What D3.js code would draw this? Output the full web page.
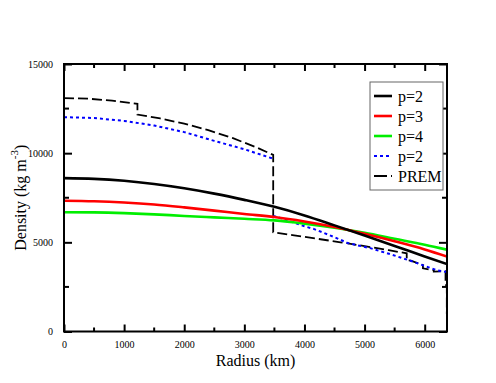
<!DOCTYPE html>
<html>
<head>
<meta charset="utf-8">
<script src="https://cdn.jsdelivr.net/npm/d3@7"></script>
<style>
  body { margin: 0; background: #fff; }
  svg text { font-family: "Liberation Serif", "DejaVu Serif", serif; }
</style>
</head>
<body>
<div id="chart"></div>
<script>
// radius grid (km) for the three model curves
var radius = [0, 500, 1000, 1500, 2000, 2500, 3000, 3500, 4000, 4500, 5000, 5500, 6000, 6371];
var densP2 = [8600, 8560, 8450, 8270, 8030, 7730, 7380, 6990, 6510, 5950, 5380, 4800, 4210, 3780];
var densP3 = [7330, 7300, 7230, 7120, 6960, 6780, 6590, 6420, 6170, 5860, 5480, 5060, 4600, 4200];
var densP4 = [6690, 6680, 6640, 6570, 6480, 6400, 6320, 6230, 6050, 5820, 5530, 5200, 4870, 4590];

// second p=2 model (dotted), core + mantle (null = break at the CMB)
var radiusP2b = [0, 500, 1000, 1500, 2000, 2500, 3000, 3480, 3480, 3480, 3606, 4000, 4163, 4500, 4720, 5108, 5442, 5776, 6055, 6222, 6371];
var densP2b = [12020, 11970, 11810, 11550, 11180, 10690, 10220, 9690, null, 6480, 6360, 5900, 5740, 5290, 4960, 4660, 4320, 3950, 3610, 3420, 3330];

// PREM
var radiusPrem = [0, 400, 800, 1221.5, 1221.5, 1600, 2000, 2400, 2800, 3200, 3480, 3480, 3800, 4200, 4600, 5000, 5400, 5701, 5701, 5771, 5971, 5971, 6151, 6151, 6346.6, 6346.6, 6356, 6356, 6368, 6368, 6371];
var densPrem = [13088, 13054, 12949, 12764, 12166, 11947, 11655, 11293, 10853, 10327, 9903, 5566, 5407, 5207, 5003, 4790, 4563, 4381, 3992, 3976, 3724, 3543, 3436, 3360, 3381, 2900, 2900, 2600, 2600, 1020, 1020];

var xTicks = [0, 1000, 2000, 3000, 4000, 5000, 6000];
var yTicks = [0, 5000, 10000, 15000];
var legendLabels = ["p=2", "p=3", "p=4", "p=2", "PREM"];

var width = 496, height = 383;
var pLeft = 64, pRight = 447, pTop = 64, pBottom = 331.5;
var serif = "'Liberation Serif', 'DejaVu Serif', serif";

var svg = d3.select("#chart").append("svg")
	.attr("width", width)
	.attr("height", height)
	.attr("font-family", serif);

var x = d3.scaleLinear().domain([0, 6371]).range([pLeft, pRight]);
var y = d3.scaleLinear().domain([0, 15000]).range([pBottom, pTop]);

var series = [
	{ r: radius, d: densP2, color: "#000000", width: 2.6, dash: null, curve: d3.curveMonotoneX },
	{ r: radius, d: densP3, color: "#ff0000", width: 2.6, dash: null, curve: d3.curveMonotoneX },
	{ r: radius, d: densP4, color: "#00ee00", width: 2.6, dash: null, curve: d3.curveMonotoneX },
	{ r: radiusP2b, d: densP2b, color: "#0000ff", width: 2, dash: "3,3", curve: d3.curveLinear },
	{ r: radiusPrem, d: densPrem, color: "#000000", width: 1.8, dash: "10,4", curve: d3.curveLinear }
];

svg.append("clipPath").attr("id", "clip")
	.append("rect").attr("x", pLeft).attr("y", pTop).attr("width", pRight - pLeft).attr("height", pBottom - pTop);

var plot = svg.append("g").attr("clip-path", "url(#clip)");

series.slice().reverse().forEach(function(s) {
	var pts = s.r.map(function(r, i) { return [r, s.d[i]]; });
	var line = d3.line()
		.defined(function(p) { return p[1] !== null; })
		.x(function(p) { return x(p[0]); })
		.y(function(p) { return y(p[1]); })
		.curve(s.curve);
	plot.append("path")
		.attr("d", line(pts))
		.attr("fill", "none")
		.attr("stroke", s.color)
		.attr("stroke-width", s.width)
		.attr("stroke-dasharray", s.dash);
});

// axes, ticks inward on all four sides
var minorX = d3.range(500, 6371, 1000);
var minorY = d3.range(2500, 15000, 5000);
var fmt = d3.format("d");

var bottomAxis = d3.axisBottom(x).tickValues(xTicks).tickFormat(fmt).tickSizeInner(-7).tickSizeOuter(0).tickPadding(9);
var topAxis = d3.axisTop(x).tickValues(xTicks).tickSizeInner(-7).tickSizeOuter(0).tickFormat("");
var leftAxis = d3.axisLeft(y).tickValues(yTicks).tickFormat(fmt).tickSizeInner(-8).tickSizeOuter(0).tickPadding(11);
var rightAxis = d3.axisRight(y).tickValues(yTicks).tickSizeInner(-8).tickSizeOuter(0).tickFormat("");

function style(g) {
	g.attr("font-family", serif);
	g.select(".domain").remove();
	g.selectAll(".tick line").attr("stroke", "#000").attr("stroke-width", 2);
	g.selectAll("text").attr("font-size", 10).attr("fill", "#000");
}

svg.append("g").attr("transform", "translate(0," + pBottom + ")").call(bottomAxis).call(style);
svg.append("g").attr("transform", "translate(0," + pTop + ")").call(topAxis).call(style);
svg.append("g").attr("transform", "translate(" + pLeft + ",0)").call(leftAxis).call(style);
svg.append("g").attr("transform", "translate(" + pRight + ",0)").call(rightAxis).call(style);

// minor ticks
svg.append("g").selectAll("line").data(minorX).enter().append("line")
	.attr("x1", function(d) { return x(d); }).attr("x2", function(d) { return x(d); })
	.attr("y1", pBottom).attr("y2", pBottom - 4)
	.attr("stroke", "#000").attr("stroke-width", 2);
svg.append("g").selectAll("line").data(minorX).enter().append("line")
	.attr("x1", function(d) { return x(d); }).attr("x2", function(d) { return x(d); })
	.attr("y1", pTop).attr("y2", pTop + 4)
	.attr("stroke", "#000").attr("stroke-width", 2);
svg.append("g").selectAll("line").data(minorY).enter().append("line")
	.attr("y1", function(d) { return y(d); }).attr("y2", function(d) { return y(d); })
	.attr("x1", pLeft).attr("x2", pLeft + 5)
	.attr("stroke", "#000").attr("stroke-width", 2);
svg.append("g").selectAll("line").data(minorY).enter().append("line")
	.attr("y1", function(d) { return y(d); }).attr("y2", function(d) { return y(d); })
	.attr("x1", pRight).attr("x2", pRight - 5)
	.attr("stroke", "#000").attr("stroke-width", 2);

// frame
svg.append("rect")
	.attr("x", pLeft).attr("y", pTop)
	.attr("width", pRight - pLeft).attr("height", pBottom - pTop)
	.attr("fill", "none").attr("stroke", "#000").attr("stroke-width", 2);

// axis titles
svg.append("text")
	.attr("x", (pLeft + pRight) / 2).attr("y", 366)
	.attr("text-anchor", "middle").attr("font-size", 16)
	.text("Radius (km)");

var yTitle = svg.append("text")
	.attr("transform", "translate(26," + ((pTop + pBottom) / 2) + ") rotate(-90)")
	.attr("text-anchor", "middle").attr("font-size", 16);
yTitle.append("tspan").text("Density (kg m");
yTitle.append("tspan").attr("font-size", 11).attr("dy", -8).text("-3");
yTitle.append("tspan").attr("dy", 8).text(")");

// legend
var legend = svg.append("g");
legend.append("rect")
	.attr("x", 370).attr("y", 82).attr("width", 73).attr("height", 108)
	.attr("fill", "#fff").attr("stroke", "#666").attr("stroke-width", 1);

var legendDash = [null, null, null, "3,3", "13,4,3,20"];
legendLabels.forEach(function(label, i) {
	var ly = 96 + i * 20;
	legend.append("line")
		.attr("x1", 374).attr("x2", 392).attr("y1", ly).attr("y2", ly)
		.attr("stroke", series[i].color)
		.attr("stroke-width", i < 3 ? 2.6 : 2)
		.attr("stroke-dasharray", legendDash[i]);
	legend.append("text")
		.attr("x", 398).attr("y", ly + 5.5)
		.attr("font-size", 16)
		.text(label);
});
</script>
</body>
</html>
